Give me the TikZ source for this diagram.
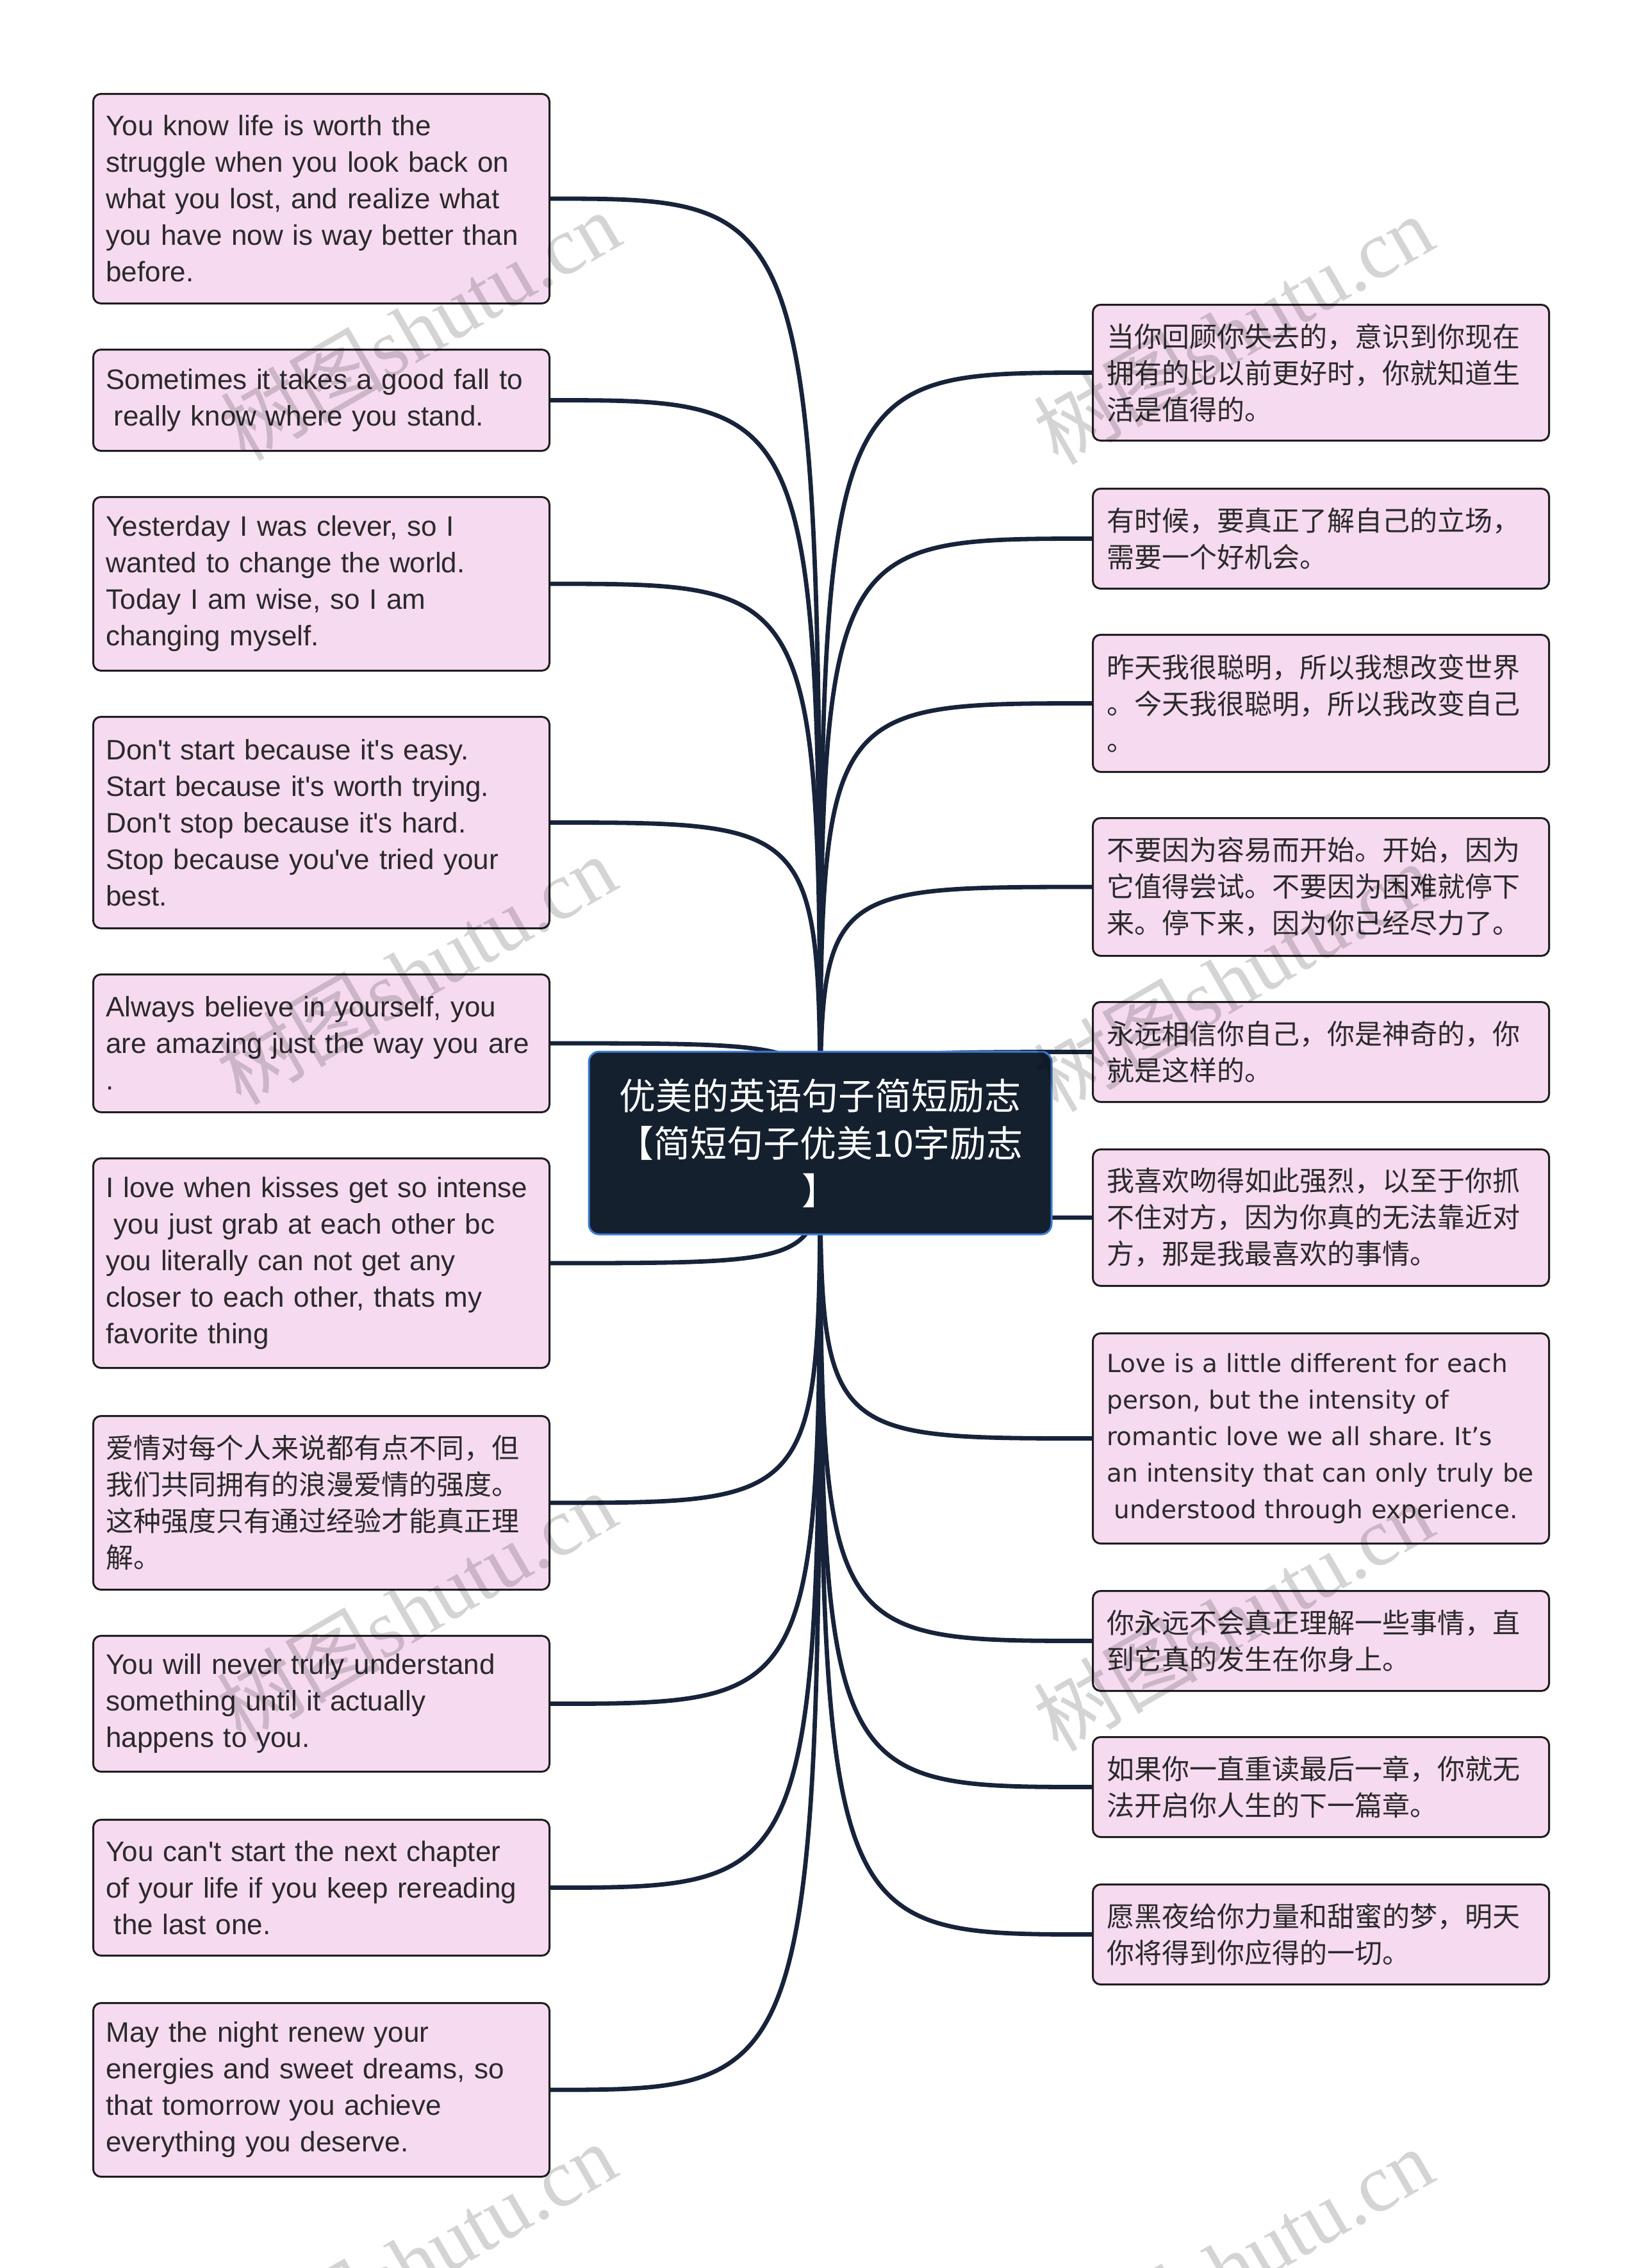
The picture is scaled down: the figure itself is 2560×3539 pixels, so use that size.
\documentclass[tikz,border=0pt]{standalone}
\usepackage{fontspec}
\newfontfamily\enfont{Liberation Sans}
\newfontfamily\cjk{Noto Sans CJK SC}
\newfontfamily\wideen{DejaVu Sans}
\newfontfamily\wmserif{Liberation Serif}
\usetikzlibrary{backgrounds}
\frenchspacing

\definecolor{nodefill}{HTML}{F6DAF0}
\definecolor{nodeborder}{HTML}{1E1E1E}
\definecolor{nodetext}{HTML}{2A2A2A}
\definecolor{rootfill}{HTML}{15202F}
\definecolor{rootborder}{HTML}{3D7BD6}
\definecolor{linkcolor}{HTML}{17233A}

\tikzset{
  leaf/.style={draw=nodeborder, line width=1.5pt, fill=nodefill, rounded corners=6pt,
    text=nodetext, anchor=north west, inner ysep=0pt, align=left},
  lleaf/.style={leaf, inner xsep=10pt, text width=336pt},
  rleaf/.style={leaf, inner xsep=11pt, text width=334pt},
  enl/.style={lleaf, font=\enfont\fontsize{22}{28.5}\selectfont},
  zhl/.style={lleaf, font=\cjk\fontsize{21.5}{28.5}\selectfont},
  zhr/.style={rleaf, font=\cjk\fontsize{21.5}{28.5}\selectfont},
  enr/.style={rleaf, font=\wideen\fontsize{19.5}{28.5}\selectfont},
  root/.style={fill=rootfill, draw=rootborder, line width=1.5pt, rounded corners=8pt,
    minimum width=361pt, minimum height=142.5pt, text=white, align=center, inner sep=0pt,
    font=\cjk\fontsize{28.5}{37}\selectfont},
  link/.style={draw=linkcolor, line width=3.4pt},
  wm/.style={text=black, text opacity=0.17, inner sep=0pt, rotate=30,
    font=\wmserif\fontsize{64}{64}\selectfont}
}
\newcommand{\leadsp}{\hspace*{0.28em}}

\begin{document}
\begin{tikzpicture}[x=0.5pt, y=-0.5pt]
\useasboundingbox (0,0) rectangle (2560,3539);

% root
\node[root] (root) at (1280,1783.5) {优美的英语句子简短励志\\【简短句子优美10字励志\\】};

% left branch
\node[enl, minimum height=163.5pt] (l1) at (144,145) {You know life is worth the\\struggle when you look back on\\what you lost, and realize what\\you have now is way better than\\before.};
\node[enl, minimum height=79pt] (l2) at (144,544) {Sometimes it takes a good fall to\\\leadsp really know where you stand.};
\node[enl, minimum height=135.5pt] (l3) at (144,774) {Yesterday I was clever, so I\\wanted to change the world.\\Today I am wise, so I am\\changing myself.};
\node[enl, minimum height=165pt] (l4) at (144,1117) {Don't start because it's easy.\\Start because it's worth trying.\\Don't stop because it's hard.\\Stop because you've tried your\\best.};
\node[enl, minimum height=107.5pt] (l5) at (144,1519) {Always believe in yourself, you\\are amazing just the way you are\\.};
\node[enl, minimum height=163.5pt] (l6) at (144,1806) {I love when kisses get so intense\\\leadsp you just grab at each other bc\\you literally can not get any\\closer to each other, thats my\\favorite thing};
\node[zhl, minimum height=135.5pt] (l7) at (144,2208) {爱情对每个人来说都有点不同，但\\我们共同拥有的浪漫爱情的强度。\\这种强度只有通过经验才能真正理\\解。};
\node[enl, minimum height=106pt] (l8) at (144,2551) {You will never truly understand\\something until it actually\\happens to you.};
\node[enl, minimum height=106pt] (l9) at (144,2838) {You can't start the next chapter\\of your life if you keep rereading\\\leadsp the last one.};
\node[enl, minimum height=135.5pt] (l10) at (144,3124) {May the night renew your\\energies and sweet dreams, so\\that tomorrow you achieve\\everything you deserve.};

% right branch
\node[zhr, minimum height=106pt] (r1) at (1704,474) {当你回顾你失去的，意识到你现在\\拥有的比以前更好时，你就知道生\\活是值得的。};
\node[zhr, minimum height=78pt] (r2) at (1704,761) {有时候，要真正了解自己的立场，\\需要一个好机会。};
\node[zhr, minimum height=107pt] (r3) at (1704,989) {昨天我很聪明，所以我想改变世界\\。今天我很聪明，所以我改变自己\\。};
\node[zhr, minimum height=107.5pt] (r4) at (1704,1275) {不要因为容易而开始。开始，因为\\它值得尝试。不要因为困难就停下\\来。停下来，因为你已经尽力了。};
\node[zhr, minimum height=78pt] (r5) at (1704,1562) {永远相信你自己，你是神奇的，你\\就是这样的。};
\node[zhr, minimum height=106.5pt] (r6) at (1704,1792) {我喜欢吻得如此强烈，以至于你抓\\不住对方，因为你真的无法靠近对\\方，那是我最喜欢的事情。};
\node[enr, minimum height=164pt] (r7) at (1704,2079) {Love is a little different for each\\person, but the intensity of\\romantic love we all share. It’s\\an intensity that can only truly be\\\leadsp understood through experience.};
\node[zhr, minimum height=78pt] (r8) at (1704,2481) {你永远不会真正理解一些事情，直\\到它真的发生在你身上。};
\node[zhr, minimum height=78pt] (r9) at (1704,2709) {如果你一直重读最后一章，你就无\\法开启你人生的下一篇章。};
\node[zhr, minimum height=78pt] (r10) at (1704,2939) {愿黑夜给你力量和甜蜜的梦，明天\\你将得到你应得的一切。};

% connectors
\begin{scope}[on background layer]
  \fill[white] (0,0) rectangle (2560,3539);
  \foreach \n in {l1,l2,l3,l4,l5,l6,l7,l8,l9,l10}
    \draw[link] (root.center) .. controls (root.center |- \n.east) .. (\n.east);
  \foreach \n in {r1,r2,r3,r4,r5,r6,r7,r8,r9,r10}
    \draw[link] (root.center) .. controls (root.center |- \n.west) .. (\n.west);
\end{scope}

% watermarks
\begin{scope}
  \clip (0,0) rectangle (2560,3539);
  \foreach \wx/\wy [count=\i] in {655/508,1924/514,649/1513,1924/1524,649/2506,1924/2522,649/3522,1924/3530}
    \node[wm] (wm\i) at (\wx,\wy) {{\cjk 树图}shutu.cn};
\end{scope}
\end{tikzpicture}
\end{document}
